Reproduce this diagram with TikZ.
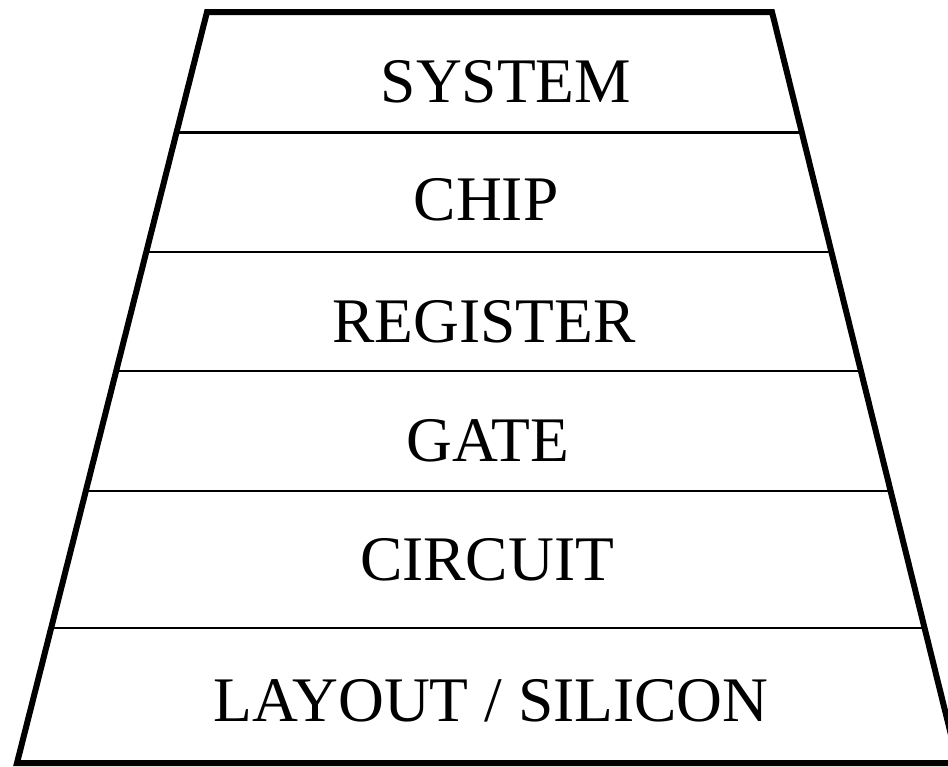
\documentclass[tikz,border=0pt]{standalone}
\usepackage{fontspec}
\setmainfont{Liberation Serif}
\usetikzlibrary{calc}
\begin{document}
\begin{tikzpicture}[x=1pt,y=-1pt,
  outline/.style={line width=6pt,line join=miter},
  divider/.style={line width=2.4pt},
  label/.style={anchor=base,inner sep=0pt,font=\fontsize{63.5}{70}\selectfont}]
\useasboundingbox (0,0) rectangle (948,766);
\coordinate (tl) at (207,12);
\coordinate (tr) at (772,12);
\coordinate (br) at (958,763);
\coordinate (bl) at (17,763);
\foreach \yy [count=\i] in {132.5,252,371,491,628}{
  \pgfmathsetmacro{\t}{(\yy-12)/751}
  \coordinate (l\i) at ($(tl)!\t!(bl)$);
  \coordinate (r\i) at ($(tr)!\t!(br)$);
  \draw[divider] (l\i) -- (r\i);
}
\draw[outline] (tl) -- (tr) -- (br) -- (bl) -- cycle;
\node[label] (system) at (506,102) {SYSTEM};
\node[label] (chip) at (486,220) {CHIP};
\node[label] (register) at (484,342) {REGISTER};
\node[label] (gate) at (488,461) {GATE};
\node[label] (circuit) at (487,580) {CIRCUIT};
\node[label] (layout) at (491,721) {LAYOUT / SILICON};
\end{tikzpicture}
\end{document}
